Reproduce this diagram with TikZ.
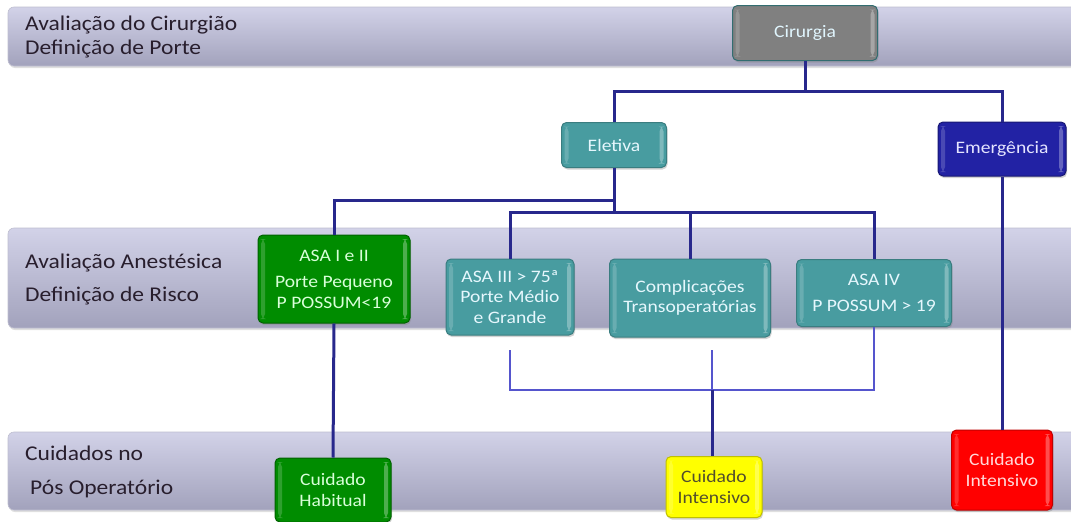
\documentclass[tikz,border=0pt]{standalone}
\usepackage{fontspec}
\setmainfont{Carlito}[FakeStretch=1.12]
\usetikzlibrary{shadows}

\definecolor{bandtop}{RGB}{210,210,232}
\definecolor{bandbot}{RGB}{162,162,188}
\definecolor{linkdark}{RGB}{40,40,140}
\definecolor{linklight}{RGB}{85,85,205}
\definecolor{labeltext}{RGB}{40,30,45}
\definecolor{boxgray}{RGB}{128,128,128}
\definecolor{boxteal}{RGB}{72,156,160}
\definecolor{boxnavy}{RGB}{34,34,164}
\definecolor{boxgreen}{RGB}{0,140,0}
\definecolor{boxyellow}{RGB}{255,255,0}
\definecolor{boxred}{RGB}{255,0,0}

\tikzset{
  band/.style={rounded corners=6pt, top color=bandtop, bottom color=bandbot,
    draw=bandbot!70!white, line width=.6pt,
    drop shadow={shadow xshift=1pt, shadow yshift=-2pt, opacity=.25}},
  bandtext/.style={anchor=west, inner sep=0pt, align=left, text=labeltext,
    font=\fontsize{21}{24}\selectfont},
  bevel/.style={path picture={
    \fill[white, opacity=.18] ([shift={(3pt,-4pt)}]path picture bounding box.north west)
      rectangle ([shift={(7pt,4pt)}]path picture bounding box.south west);
    \fill[white, opacity=.3] ([shift={(-3pt,-4pt)}]path picture bounding box.north east)
      rectangle ([shift={(-7pt,4pt)}]path picture bounding box.south east);}},
  box/.style={rectangle, rounded corners=5pt, inner sep=0pt, align=center,
    line width=1pt, font=\fontsize{17.5}{20.5}\selectfont, bevel,
    drop shadow={shadow xshift=1pt, shadow yshift=-2pt, opacity=.35}},
  graybox/.style={box, fill=boxgray, draw=boxteal!70!black, text=white!88!cyan},
  tealbox/.style={box, fill=boxteal, draw=boxteal!80!black, text=white!90!cyan},
  navybox/.style={box, fill=boxnavy, draw=boxnavy!70!black, text=white!90!blue},
  greenbox/.style={box, fill=boxgreen, draw=boxgreen!70!black, text=white!85!green},
  yellowbox/.style={box, fill=boxyellow, draw=boxyellow!75!black, text=black!55!olive},
  redbox/.style={box, fill=boxred, draw=boxred!75!black, text=white!85!red},
  link/.style={draw=linkdark, line width=3pt},
  linklow/.style={draw=linklight, line width=2.5pt}
}

\begin{document}
\begin{tikzpicture}[x=1pt, y=-1pt]
  \useasboundingbox (0,0) rectangle (1071,522);

  % faixas
  \path[band] (8,7) rectangle (1095,66);
  \path[band] (8,228) rectangle (1095,328);
  \path[band] (8,432) rectangle (1095,510);
  \node[bandtext] (tcir) at (25,37) {Avaliação do Cirurgião\\Definição de Porte};
  \node[bandtext] (tane) at (25,279) {Avaliação Anestésica\\[9pt]Definição de Risco};
  \node[bandtext] (tpos) at (25,472) {Cuidados no\\[10pt]\hspace{5pt}Pós Operatório};

  % caixas
  \node[graybox, minimum width=145, minimum height=55] (cir) at (805,33) {Cirurgia};
  \node[tealbox, minimum width=105, minimum height=45] (ele) at (614,145) {Eletiva};
  \node[navybox, minimum width=128, minimum height=54] (emg) at (1002,149) {Emergência};
  \node[greenbox, minimum width=152, minimum height=88] (asa1) at (334,279)
    {ASA I e II\\[6pt]Porte Pequeno\\P POSSUM<19};
  \node[tealbox, minimum width=128, minimum height=76] (asa3) at (510,297)
    {ASA III > 75ª\\Porte Médio\\e Grande};
  \node[tealbox, minimum width=161, minimum height=78] (comp) at (690,298)
    {Complicações\\Transoperatórias};
  \node[tealbox, minimum width=155, minimum height=67] (asa4) at (874,293)
    {ASA IV\\[6pt]P POSSUM > 19};
  \node[greenbox, minimum width=116, minimum height=64] (hab) at (333,490)
    {Cuidado\\Habitual};
  \node[yellowbox, minimum width=96, minimum height=61] (uti1) at (714,487)
    {Cuidado\\Intensivo};
  \node[redbox, minimum width=101, minimum height=80] (uti2) at (1002,470)
    {Cuidado\\Intensivo};

  % ligacoes
  \coordinate (jA) at (805,91);
  \coordinate (jB) at (614,200);
  \coordinate (jC) at (614,212);
  \coordinate (jD) at (712,390);
  \coordinate (s3) at (510,350); % sem contato com a caixa
  \coordinate (sc) at (712,350);
  \draw[link] (cir.south) -- (jA) -| (ele.north);
  \draw[link] (jA) -| (emg.north);
  \draw[link] (ele.south) -- (jC);
  \draw[link] (jB) -| (asa1.north);
  \draw[link] (jC) -| (asa3.north);
  \draw[link] (jC) -| (asa4.north);
  \draw[link] (comp.north |- jC) -- (comp.north);
  \draw[link] (asa1.south) -- (hab.north);
  \draw[link] (emg.south) -- (uti2.north);
  \draw[linklow] (s3) |- (jD) -| (asa4.south);
  \draw[linklow] (sc) -- (jD);
  \draw[link] (jD) -- (uti1.north -| jD);
\end{tikzpicture}
\end{document}
